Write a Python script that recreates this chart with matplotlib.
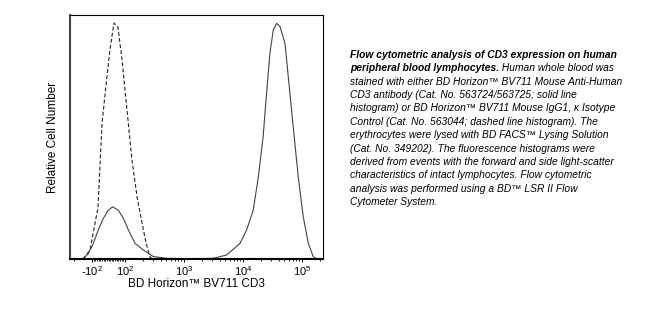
import numpy as np
import matplotlib
matplotlib.use("Agg")
from matplotlib import pyplot as plt

plt.rcParams['font.family'] = ['Liberation Sans', 'DejaVu Sans']
plt.rcParams['mathtext.default'] = 'regular'

# isotype control (dashed), fluorescence vs relative count
iso_x = [-142, -108, -64, -39, -15, 9, 33, 57, 82, 108, 131, 160, 194, 227, 265, 298]
iso_y = [0, 3.7, 21, 55.7, 71.3, 86, 96.7, 95, 81.6, 61, 40.6, 25.4, 14.8, 6.6, 0.8, 0]

# CD3 stained (solid)
cd3_x = [-142, -115, -92, -62, -31, -1, 25, 59, 90, 114, 148, 204, 302, 508, 1260,
         3130, 5250, 8900, 11500, 14900, 18200, 21900, 25100, 28600, 32600, 37200,
         42400, 51500, 58500, 71000, 86300, 105000, 128000, 155000, 178000]
cd3_y = [0, 2.3, 6.4, 11.9, 16.7, 20, 21.4, 20, 16.7, 11.9, 6.4, 3.7, 1, 0.3, 0.1,
         0.3, 1.6, 6.4, 11.9, 20, 33.7, 50, 67.9, 84.3, 93.9, 96.6,
         95.2, 88.4, 74.7, 54.2, 33.7, 17.3, 6.4, 1, 0]

major_ticks = [-100, 100, 1000, 10000, 100000]
major_labels = ['-$10^{2}$', '$10^{2}$', '$10^{3}$', '$10^{4}$', '$10^{5}$']
minor_ticks = ([-200] + list(range(-90, 100, 10)) + list(range(200, 1000, 100))
               + list(range(2000, 10000, 1000)) + list(range(20000, 100000, 10000)) + [200000])

caption = [
    "stained with either BD Horizon\u2122 BV711 Mouse Anti-Human",
    "CD3 antibody (Cat. No. 563724/563725; solid line",
    "histogram) or BD Horizon\u2122 BV711 Mouse IgG1, \u03ba Isotype",
    "Control (Cat. No. 563044; dashed line histogram). The",
    "erythrocytes were lysed with BD FACS\u2122 Lysing Solution",
    "(Cat. No. 349202). The fluorescence histograms were",
    "derived from events with the forward and side light-scatter",
    "characteristics of intact lymphocytes. Flow cytometric",
    "analysis was performed using a BD\u2122 LSR II Flow",
    "Cytometer System.",
]

A = 0.28  # decades given to 0..100


def fwd(x):
    x = np.asarray(x, dtype=float)
    ax_ = np.abs(x)
    lg = np.log10(np.maximum(ax_, 100.0)) - 2 + A
    return np.where(ax_ <= 100, x * A / 100, np.sign(x) * lg)


def inv(d):
    d = np.asarray(d, dtype=float)
    ad = np.abs(d)
    return np.where(ad <= A, d * 100 / A, np.sign(d) * 10 ** (np.maximum(ad, A) - A + 2))


fig = plt.figure(figsize=(6.71, 3.19), dpi=100)
ax = fig.add_axes([70 / 671, 1 - 259 / 319, 253 / 671, 244 / 319])
ax.set_xscale('function', functions=(fwd, inv))

ax.plot(iso_x, iso_y, color='#222222', lw=0.8, ls=(0, (3.5, 2)))
ax.plot(cd3_x, cd3_y, color='#444444', lw=0.8)

ax.set_xlim(-236, 227000)
ax.set_ylim(0, 100)
ax.set_xticks(major_ticks)
ax.set_xticklabels(major_labels)
ax.set_xticks(minor_ticks, minor=True)
ax.tick_params(axis='x', which='major', length=2.5, width=0.7, labelsize=8, pad=1.5, direction='out')
ax.tick_params(axis='x', which='minor', length=1.5, width=0.6, direction='out')
ax.set_yticks([])

for s in ['left', 'bottom']:
    ax.spines[s].set_linewidth(1.5)
for s in ['top', 'right']:
    ax.spines[s].set_linewidth(0.8)
ax.spines['left'].set_color('#444444')

ax.set_xlabel("BD Horizon\u2122 BV711 CD3", fontsize=8.5, labelpad=0)
ax.set_ylabel("Relative Cell Number", fontsize=8.5, labelpad=8)

# caption
x0 = 350 / 671
fs = 7.35
step = 13.36 / 319
y0 = 1 - 58 / 319
fig.text(x0, y0, "Flow cytometric analysis of CD3 expression on human",
         fontsize=fs, style='italic', weight='bold', va='baseline')
t2 = fig.text(x0, y0 - step, "peripheral blood lymphocytes.",
              fontsize=fs, style='italic', weight='bold', va='baseline')
fig.canvas.draw()
bb = t2.get_window_extent()
fig.text(bb.x1 / fig.bbox.width, y0 - step, " Human whole blood was",
         fontsize=fs, style='italic', va='baseline')
for i, line in enumerate(caption):
    fig.text(x0, y0 - (i + 2) * step, line, fontsize=fs, style='italic', va='baseline')

plt.savefig("out.png", dpi=100)
